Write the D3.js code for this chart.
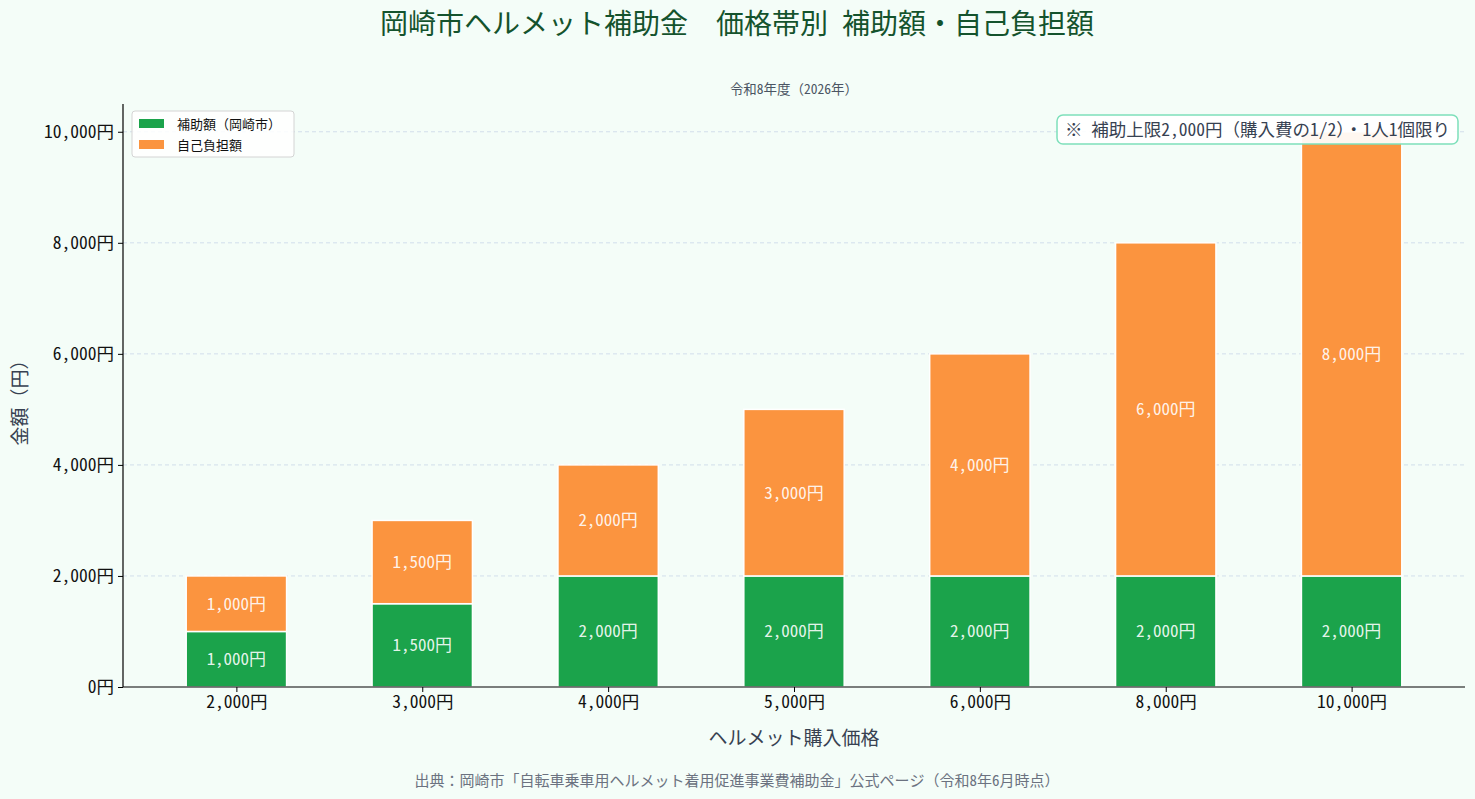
<!DOCTYPE html>
<html>
<head>
<meta charset="utf-8">
<script src="https://cdn.jsdelivr.net/npm/d3@7"></script>
<style>
  body { margin: 0; background: #f4fdf8; }
  svg { display: block; }
</style>
</head>
<body>
<div id="chart"></div>
<script>
// price bands and amounts (yen)
const prices = ["2,000円", "3,000円", "4,000円", "5,000円", "6,000円", "8,000円", "10,000円"];
const subsidy = [1000, 1500, 2000, 2000, 2000, 2000, 2000];
const selfPay = [1000, 1500, 2000, 3000, 4000, 6000, 8000];
const yTicks = [0, 2000, 4000, 6000, 8000, 10000];
const seriesNames = ["補助額（岡崎市）", "自己負担額"];
const colors = ["#1ba34b", "#fb943f"];

const FONT = '"Noto Sans Mono CJK JP", "Noto Sans CJK JP", monospace';

const W = 1475, H = 799;
const margin = { top: 104, right: 10, bottom: 112, left: 123 };
const width = W - margin.left - margin.right;
const height = H - margin.top - margin.bottom;

const svg = d3.select("#chart").append("svg")
    .attr("width", W)
    .attr("height", H)
    .attr("font-family", FONT);

svg.append("rect").attr("width", W).attr("height", H).attr("fill", "#f4fdf8");

const g = svg.append("g").attr("transform", `translate(${margin.left},${margin.top})`);

const x = d3.scalePoint()
    .domain(prices)
    .range([0, width])
    .padding(0.61);
const barW = x.step() * 0.54;

const y = d3.scaleLinear()
    .domain([0, 10500])
    .range([height, 0]);

const fmt = d => d3.format(",")(d) + "円";

// grid
g.append("g")
    .selectAll("line")
    .data(yTicks.filter(d => d > 0))
    .join("line")
    .attr("x1", 0).attr("x2", width)
    .attr("y1", d => y(d)).attr("y2", d => y(d))
    .attr("stroke", "#c9d7e8")
    .attr("stroke-dasharray", "4,3")
    .attr("stroke-width", 0.8);

// stacked data
const rows = prices.map((p, i) => ({ price: p, s: subsidy[i], o: selfPay[i] }));
const stack = d3.stack().keys(["s", "o"])(rows);

g.append("g")
    .selectAll("g")
    .data(stack)
    .join("g")
    .attr("fill", (d, i) => colors[i])
    .selectAll("rect")
    .data(d => d)
    .join("rect")
    .attr("x", d => x(d.data.price) - barW / 2)
    .attr("y", d => y(d[1]))
    .attr("width", barW)
    .attr("height", d => y(d[0]) - y(d[1]))
    .attr("stroke", "#ffffff")
    .attr("stroke-width", 1.5);

// value labels
g.append("g")
    .selectAll("g")
    .data(stack)
    .join("g")
    .selectAll("text")
    .data(d => d)
    .join("text")
    .attr("x", d => x(d.data.price))
    .attr("y", d => y((d[0] + d[1]) / 2))
    .attr("dy", "0.35em")
    .attr("text-anchor", "middle")
    .attr("font-size", 17)
    .attr("fill", "#ffffff")
    .attr("fill-opacity", 0.9)
    .text(d => fmt(d[1] - d[0]));

// axes
const xAxis = g.append("g")
    .attr("transform", `translate(0,${height})`)
    .call(d3.axisBottom(x).tickSizeOuter(0).tickSize(5).tickPadding(4));
xAxis.attr("font-family", FONT).attr("font-size", 17.5);
xAxis.select(".domain").attr("stroke", "#000").attr("stroke-width", 1.2)
    .attr("d", `M0,0H${width}`);
xAxis.selectAll("text").attr("fill", "#111");

const yAxis = g.append("g")
    .call(d3.axisLeft(y).tickValues(yTicks).tickFormat(fmt).tickSizeOuter(0).tickSize(5).tickPadding(4));
yAxis.attr("font-family", FONT).attr("font-size", 17.5);
yAxis.select(".domain").attr("stroke", "#000").attr("stroke-width", 1.2)
    .attr("d", `M0,${height}V0`);
yAxis.selectAll("text").attr("fill", "#111");
svg.selectAll(".tick line").attr("stroke", "#000");

// axis titles
svg.append("text")
    .attr("x", margin.left + width / 2)
    .attr("y", 745)
    .attr("text-anchor", "middle")
    .attr("font-size", 19)
    .attr("fill", "#374151")
    .text("ヘルメット購入価格");

svg.append("text")
    .attr("transform", `translate(27,398) rotate(-90)`)
    .attr("text-anchor", "middle")
    .attr("font-size", 19)
    .attr("fill", "#374151")
    .text("金額（円）");

// title / subtitle / source
svg.append("text")
    .attr("x", 737).attr("y", 34)
    .attr("text-anchor", "middle")
    .attr("font-size", 28)
    .attr("fill", "#14532d")
    .text("岡崎市ヘルメット補助金　価格帯別 補助額・自己負担額");

svg.append("text")
    .attr("x", margin.left + width / 2).attr("y", 94)
    .attr("text-anchor", "middle")
    .attr("font-size", 13.5)
    .attr("fill", "#4b5563")
    .text("令和8年度（2026年）");

svg.append("text")
    .attr("x", 737).attr("y", 786)
    .attr("text-anchor", "middle")
    .attr("font-size", 15)
    .attr("fill", "#6b7280")
    .text("出典：岡崎市「自転車乗車用ヘルメット着用促進事業費補助金」公式ページ（令和8年6月時点）");

// legend
const legend = svg.append("g").attr("transform", "translate(132,111)");
legend.append("rect")
    .attr("width", 162).attr("height", 46)
    .attr("rx", 3)
    .attr("fill", "#ffffff").attr("fill-opacity", 0.85)
    .attr("stroke", "#d4d4d4");
seriesNames.forEach((name, i) => {
    legend.append("rect")
        .attr("x", 7).attr("y", 8 + i * 21)
        .attr("width", 25).attr("height", 9)
        .attr("fill", colors[i]);
    legend.append("text")
        .attr("x", 45).attr("y", 13 + i * 21)
        .attr("dy", "0.35em")
        .attr("font-size", 13)
        .attr("fill", "#111")
        .text(name);
});

// note box
const note = svg.append("g").attr("transform", "translate(1057,115)");
note.append("rect")
    .attr("width", 401).attr("height", 29)
    .attr("rx", 6)
    .attr("fill", "#ffffff").attr("fill-opacity", 0.92)
    .attr("stroke", "#7ee0bb").attr("stroke-width", 1.5);
note.append("text")
    .attr("x", 8).attr("y", 15)
    .attr("dy", "0.35em")
    .attr("font-size", 17.5)
    .attr("fill", "#374151")
    .text("※ 補助上限2,000円（購入費の1/2）・1人1個限り");
</script>
</body>
</html>
